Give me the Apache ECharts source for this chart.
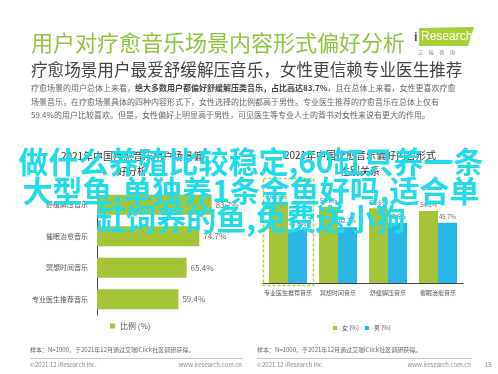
<!DOCTYPE html>
<html>
<head>
<meta charset="utf-8">
<script src="https://cdn.jsdelivr.net/npm/echarts@6/dist/echarts.min.js"></script>
<style>
html,body{margin:0;padding:0;background:#fff;}
#c{width:498px;height:374px;}
</style>
</head>
<body>
<div id="c"></div>
<script>
// ---- data ----
var leftCategories = ['舒缓解压音乐', '催眠治愈音乐', '冥想时间音乐', '专业医生推荐音乐'];
var leftValues = [83.7, 74.7, 65.4, 59.4];
var rightCategories = ['专业医生推荐音乐', '冥想时间音乐', '舒缓解压音乐', '催眠治愈音乐'];
var femaleValues = [60.6, 57.7, 56.6, 54.5];
var maleValues = [40.6, 42.3, 45.5, 45.7];
var leftSeriesName = '比例 (%)';
var femaleName = '女 (%)';
var maleName = '男 (%)';

var mainTitle = '用户对疗愈音乐场景内容形式偏好分析';
var subTitle = '疗愈场景用户最爱舒缓解压音乐，女性更信赖专业医生推荐';
var paraLines = [
  '疗愈场景的用户总体上来看，{b|绝大多数用户都偏好舒缓解压类音乐，占比高达83.7%}，且在总体上来看，女性更喜欢疗愈',
  '场景音乐，在疗愈场景具体的四种内容形式下，女性选择的比例都高于男性。专业医生推荐的疗愈音乐在总体上仅有',
  '59.4%的用户比较喜欢。但是，女性偏好上明显高于男性，可见医生等专业人士的背书对女性来说有更大的作用。'
];
var leftTitleLines = ['2021年中国疗愈音乐用户场景偏', '好分析'];
var rightTitleLines = ['2021年中国疗愈音乐偏好内容形式', '性别关系'];
var sampleNote = '样本：N=1000，于2021年12月通过艾瑞iClick社区调研获得。';
var copyright = '©2021.12 iResearch Inc.';
var website = 'www.iresearch.com.cn';
var pageNo = '15';
var overlayLines = ['做什么养殖比较稳定,60缸只养一条', '大型鱼,单独养1条金鱼好吗,适合单', '缸饲养的鱼,免费送小狗'];

var GREEN = '#a6c43a';
var BLUE = '#2ab6e6';
var FONT = '"Noto Sans CJK SC", "Microsoft YaHei", sans-serif';

var chart = echarts.init(document.getElementById('c'), null, {renderer: 'canvas'});

function txt(x, y, text, size, color, align, extra) {
  var s = {x: x, y: y, text: text, fontSize: size, fill: color, align: align || 'left', verticalAlign: 'middle', fontFamily: FONT};
  if (extra) for (var k in extra) s[k] = extra[k];
  return {type: 'text', silent: true, z: 10, style: s};
}

var graphics = [];
graphics.push(txt(31, 43, mainTitle, 22, '#8dc63f'));
// logo
graphics.push({type: 'polygon', silent: true, z: 10, shape: {points: [[419, 28], [474, 27], [468, 46], [419, 46]]}, style: {fill: '#a8cf38'}});
graphics.push(txt(414, 37, 'i', 13, '#555', 'left', {fontWeight: 'bold', fontFamily: 'Arial, sans-serif'}));
graphics.push(txt(421, 37, 'Research', 12, '#fff', 'left', {fontFamily: 'Arial, sans-serif'}));
graphics.push(txt(418, 52, '艾     瑞     咨     询', 5, '#777'));
graphics.push(txt(31, 70, subTitle, 16.6, '#444'));
var py = [88, 101.5, 115];
for (var i = 0; i < paraLines.length; i++) {
  graphics.push(txt(31, py[i], paraLines[i], 8, '#666', 'left', {rich: {b: {fontWeight: 'bold', fill: '#444', fontSize: 8, fontFamily: FONT}}}));
}
graphics.push(txt(132, 156, leftTitleLines[0], 10, '#333', 'center'));
graphics.push(txt(132, 171, leftTitleLines[1], 10, '#333', 'center'));
graphics.push(txt(360, 155, rightTitleLines[0], 10, '#333', 'center'));
graphics.push(txt(360, 171, rightTitleLines[1], 10, '#333', 'center'));
// dashed highlight box
graphics.push({type: 'rect', silent: true, z: 10, shape: {x: 263.5, y: 178.5, width: 50, height: 107}, style: {fill: 'none', stroke: '#b9cd3c', lineWidth: 1.5, lineDash: [3, 2]}});
// footers
graphics.push(txt(30, 350, sampleNote, 6, '#666'));
graphics.push(txt(257, 350, sampleNote, 6, '#666'));
graphics.push({type: 'line', silent: true, z: 10, shape: {x1: 30, y1: 358.5, x2: 243, y2: 358.5}, style: {stroke: '#ccc', lineWidth: 1}});
graphics.push({type: 'line', silent: true, z: 10, shape: {x1: 257, y1: 358.5, x2: 472, y2: 358.5}, style: {stroke: '#ccc', lineWidth: 1}});
graphics.push(txt(30, 365, copyright, 6, '#888'));
graphics.push(txt(242, 365, website, 6, '#888', 'right'));
graphics.push(txt(257, 365, copyright, 6, '#888'));
graphics.push(txt(471, 365, website, 6, '#888', 'right'));
graphics.push(txt(485, 365, pageNo, 6, '#888'));
// overlay
var oy = [162, 191, 219];
for (var j = 0; j < overlayLines.length; j++) {
  var g = txt(251, oy[j], overlayLines[j], 30, '#22dbe8', 'center', {fontWeight: 'bold'});
  g.z = 100;
  graphics.push(g);
}

var option = {
  backgroundColor: '#fff',
  animation: false,
  textStyle: {fontFamily: FONT},
  legend: [
    {data: [leftSeriesName], left: 110, top: 322, padding: 0, itemWidth: 5, itemHeight: 5, icon: 'rect', itemGap: 6,
     textStyle: {fontSize: 8, color: '#555', fontFamily: FONT}},
    {data: [femaleName, maleName], left: 333, top: 325, padding: 0, itemWidth: 4, itemHeight: 4, icon: 'rect', itemGap: 6,
     textStyle: {fontSize: 6, color: '#555', fontFamily: FONT}}
  ],
  grid: [
    {left: 97, top: 189, width: 137, height: 126},
    {left: 263, top: 151, width: 200, height: 132}
  ],
  xAxis: [
    {gridIndex: 0, type: 'value', min: 0, max: 100, show: false},
    {gridIndex: 1, type: 'category', data: rightCategories,
     axisLine: {lineStyle: {color: '#444', width: 1}}, axisTick: {show: false},
     axisLabel: {fontSize: 6, color: '#555', margin: 7, interval: 0, fontFamily: FONT}}
  ],
  yAxis: [
    {gridIndex: 0, type: 'category', data: leftCategories, inverse: true,
     axisLine: {lineStyle: {color: '#444', width: 1}}, axisTick: {show: false},
     axisLabel: {fontSize: 7, color: '#555', margin: 9, fontFamily: FONT}},
    {gridIndex: 1, type: 'value', min: 0, max: 100, show: false}
  ],
  series: [
    {name: leftSeriesName, type: 'bar', xAxisIndex: 0, yAxisIndex: 0, data: leftValues, barWidth: 20,
     itemStyle: {color: GREEN},
     label: {show: true, position: 'right', distance: 4, formatter: '{c}%', fontSize: 8, color: '#666', fontFamily: FONT}},
    {name: femaleName, type: 'bar', xAxisIndex: 1, yAxisIndex: 1, data: femaleValues, barWidth: 19, barGap: '0%',
     itemStyle: {color: GREEN},
     label: {show: true, position: 'top', distance: 3, formatter: '{c}%', fontSize: 6, color: '#666', fontFamily: FONT}},
    {name: maleName, type: 'bar', xAxisIndex: 1, yAxisIndex: 1, data: maleValues, barWidth: 19, barGap: '0%',
     itemStyle: {color: BLUE},
     label: {show: true, position: 'top', distance: 3, formatter: '{c}%', fontSize: 6, color: '#666', fontFamily: FONT}}
  ],
  graphic: graphics
};
chart.setOption(option);
</script>
</body>
</html>
